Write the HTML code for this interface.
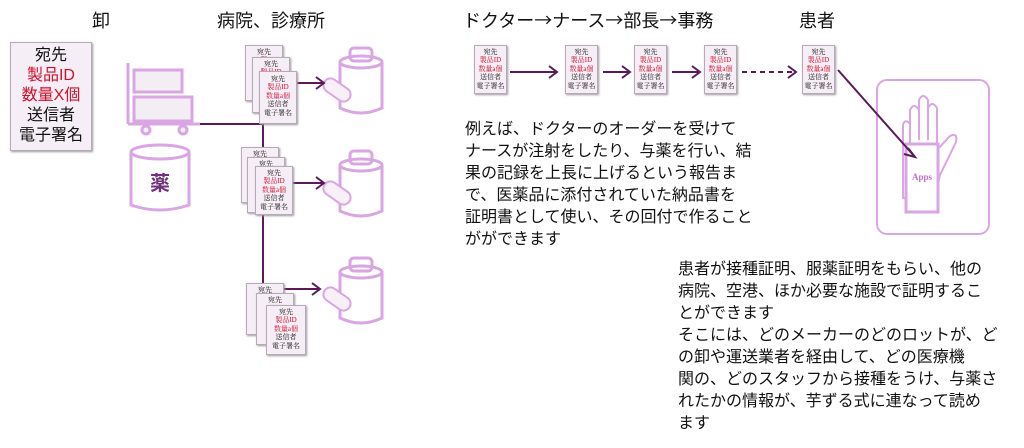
<!DOCTYPE html>
<html><head><meta charset="utf-8"><style>
body{margin:0;width:1024px;height:448px;background:#fff;position:relative;overflow:hidden;font-family:"Liberation Sans","Noto Sans CJK JP",sans-serif;color:#111}
.t{position:absolute;white-space:nowrap}
.d{position:absolute;background:#f6eef6;border:1px solid #b8a8b8;box-shadow:1px 1px 2px #999;text-align:center;font-family:"Liberation Serif","Noto Serif CJK SC",serif;line-height:1.2}
.d .r{color:#d0102a}
.p{position:absolute;font-size:16px;line-height:22px;white-space:nowrap}
.a{font-family:"Noto Sans CJK JP",sans-serif}
</style></head><body>
<svg width="1024" height="448" style="position:absolute;left:0;top:0">
<g fill="none" stroke="#d9a6e3" stroke-width="3">
<line x1="128" y1="63" x2="128" y2="124"/>
<line x1="128" y1="124" x2="200" y2="124"/>
<rect x="134" y="70" width="48" height="22" fill="#f3eef3"/>
<rect x="134" y="97" width="58" height="24" fill="#f3eef3"/>
<circle cx="146" cy="130" r="4" fill="#f3eef3"/><circle cx="183" cy="130" r="4" fill="#f3eef3"/>
<path d="M131 152 V205 Q160 215 189 205 V152" />
<ellipse cx="160" cy="152" rx="29" ry="7"/>
<g><path d="M340 62 V108 Q361 118 382 108 V62"/><ellipse cx="361" cy="62" rx="21" ry="6"/><rect x="350" y="48" width="22" height="13" rx="4"/></g>
<g transform="translate(0,103)"><path d="M340 62 V108 Q361 118 382 108 V62"/><ellipse cx="361" cy="62" rx="21" ry="6"/><rect x="350" y="48" width="22" height="13" rx="4"/></g>
<g transform="translate(0,210)"><path d="M340 62 V108 Q361 118 382 108 V62"/><ellipse cx="361" cy="62" rx="21" ry="6"/><rect x="350" y="48" width="22" height="13" rx="4"/></g>
<g stroke-width="2" fill="#f7f0f7"><rect x="322" y="83" width="30" height="14" rx="7" transform="rotate(35 337 90)"/><rect x="322" y="186" width="30" height="14" rx="7" transform="rotate(35 337 193)"/><rect x="322" y="292" width="30" height="14" rx="7" transform="rotate(35 337 299)"/></g>
<rect x="877" y="80" width="112" height="154" rx="10" stroke-width="2"/>
<path d="M903 198 V125 Q905 118 910 124 V145 V110 Q914 102 919 110 V140 V100 Q923 92 928 100 V140 V108 Q932 100 937 108 V150 L950 136 Q958 132 956 142 L940 175 Q935 198 930 205 Z" stroke-width="2"/>
<rect x="906" y="144" width="32" height="68" fill="#fff" stroke-width="3"/>
</g>
<g stroke="#5a1a5a" stroke-width="2" fill="none">
<line x1="200" y1="124" x2="263" y2="124"/>
<line x1="263" y1="124" x2="263" y2="285"/>
<line x1="296" y1="83" x2="324" y2="83"/><polyline points="316,77 324,83 316,89"/>
<line x1="293" y1="183" x2="324" y2="183"/><polyline points="316,177 324,183 316,189"/>
<line x1="284" y1="289" x2="320" y2="289"/><polyline points="312,283 320,289 312,295"/>
<line x1="510" y1="72" x2="557" y2="72"/><polyline points="549,66 557,72 549,78"/>
<line x1="603" y1="72" x2="630" y2="72"/><polyline points="622,66 630,72 622,78"/>
<line x1="672" y1="72" x2="700" y2="72"/><polyline points="692,66 700,72 692,78"/>
<line x1="742" y1="72" x2="796" y2="72" stroke-dasharray="5,4"/><polyline points="788,66 796,72 788,78"/>
<line x1="838" y1="70" x2="915" y2="157"/><polyline points="908,148 915,157 904,154"/>
</g>
<text x="922" y="180" text-anchor="middle" font-family="Liberation Serif" font-size="9" font-weight="bold" fill="#c070c8">Apps</text>
<text x="160" y="190" text-anchor="middle" font-family="Liberation Sans,Noto Sans CJK JP,sans-serif" font-size="20" font-weight="bold" fill="#70307a">薬</text>
</svg>
<div class="t" style="left:92px;top:7px;font-size:18px">卸</div>
<div class="t" style="left:217px;top:7px;font-size:18px">病院、診療所</div>
<div class="t" style="left:463px;top:7px;font-size:18px">ドクター<span class="a">→</span>ナース<span class="a">→</span>部長<span class="a">→</span>事務</div>
<div class="t" style="left:799px;top:7px;font-size:18px">患者</div>
<div class="d" style="left:10px;top:42px;width:80px;height:104px;font-size:16px;line-height:20px;padding-top:3px;font-family:'Liberation Sans','Noto Sans CJK JP',sans-serif">宛先<br><span class="r">製品ID<br>数量X個</span><br>送信者<br>電子署名</div>
<div class="d" style="left:245px;top:45px;width:36px;height:52px;font-size:7px;padding-top:2px">宛先<br><span class="r">製</span></div>
<div class="d" style="left:252px;top:57px;width:36px;height:52px;font-size:7px;padding-top:2px">宛先<br><span class="r">製品ID</span></div>
<div class="d" style="left:259px;top:71px;width:36px;height:48px;font-size:7px;padding-top:3px">宛先<br><span class="r">製品ID<br>数量a個</span><br>送信者<br>電子署名</div>
<div class="d" style="left:241px;top:147px;width:36px;height:52px;font-size:7px;padding-top:2px">宛先</div>
<div class="d" style="left:247px;top:157px;width:36px;height:52px;font-size:7px;padding-top:2px">宛先</div>
<div class="d" style="left:255px;top:166px;width:36px;height:45px;font-size:7px;padding-top:2px">宛先<br><span class="r">製品ID<br>数量a個</span><br>送信者<br>電子署名</div>
<div class="d" style="left:246px;top:283px;width:36px;height:48px;font-size:7px;padding-top:2px">宛先</div>
<div class="d" style="left:256px;top:293px;width:36px;height:48px;font-size:7px;padding-top:2px">宛先</div>
<div class="d" style="left:266px;top:305px;width:38px;height:46px;font-size:7px;padding-top:2px">宛先<br><span class="r">製品ID<br>数量a個</span><br>送信者<br>電子署名</div>
<div class="d" style="left:474px;top:45px;width:31px;height:45px;font-size:7px;padding-top:2px">宛先<br><span class="r">製品ID<br>数量a個</span><br>送信者<br>電子署名</div>
<div class="d" style="left:565px;top:45px;width:31px;height:45px;font-size:7px;padding-top:2px">宛先<br><span class="r">製品ID<br>数量a個</span><br>送信者<br>電子署名</div>
<div class="d" style="left:634px;top:45px;width:31px;height:45px;font-size:7px;padding-top:2px">宛先<br><span class="r">製品ID<br>数量a個</span><br>送信者<br>電子署名</div>
<div class="d" style="left:704px;top:45px;width:31px;height:45px;font-size:7px;padding-top:2px">宛先<br><span class="r">製品ID<br>数量a個</span><br>送信者<br>電子署名</div>
<div class="d" style="left:802px;top:45px;width:31px;height:45px;font-size:7px;padding-top:2px">宛先<br><span class="r">製品ID<br>数量a個</span><br>送信者<br>電子署名</div>
<div class="p" style="left:465px;top:119px">例えば、ドクターのオーダーを受けて<br>ナースが注射をしたり、与薬を行い、結<br>果の記録を上長に上げるという報告ま<br>で、医薬品に添付されていた納品書を<br>証明書として使い、その回付で作ること<br>がができます</div>
<div class="p" style="left:678px;top:259px">患者が接種証明、服薬証明をもらい、他の<br>病院、空港、ほか必要な施設で証明するこ<br>とができます<br>そこには、どのメーカーのどのロットが、ど<br>の卸や運送業者を経由して、どの医療機<br>関の、どのスタッフから接種をうけ、与薬さ<br>れたかの情報が、芋ずる式に連なって読め<br>ます</div>
</body></html>
